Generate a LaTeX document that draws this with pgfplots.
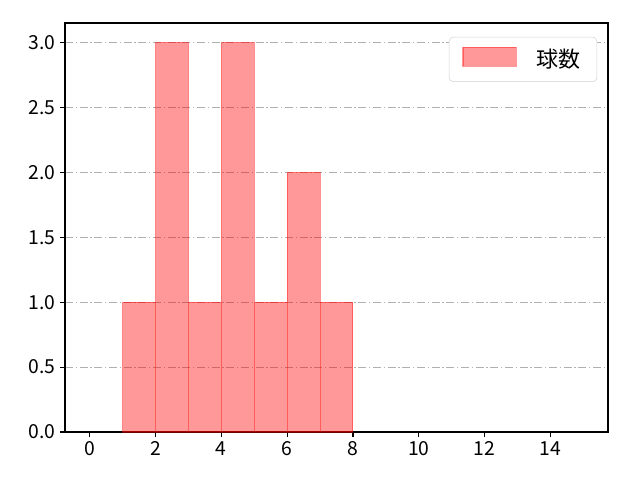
\documentclass[border=0pt]{standalone}
\usepackage{pgfplots}
\pgfplotsset{compat=1.18}
\usepackage{fontspec}
\setmainfont{Noto Sans CJK JP}
\definecolor{barred}{RGB}{255,0,0}
\definecolor{gridgray}{RGB}{176,176,176}
\begin{document}
\begin{tikzpicture}
  \begin{axis}[
    at={(0,0)}, anchor=south west,
    scale only axis, width=407.25pt, height=306.75pt,
    xmin=-0.75, xmax=15.75, ymin=0, ymax=3.15,
    xtick={0,2,...,14}, ytick={0,0.5,...,3},
    yticklabel style={/pgf/number format/.cd,fixed,fixed zerofill,precision=1},
    /pgf/number format/assume math mode=true,
    ticklabel style={font=\fontsize{14.5}{16}\selectfont},
    tick align=outside, major tick length=3.6pt,
    xtick pos=bottom, ytick pos=left,
    axis line style={line width=0.9pt},
    every tick/.style={line width=0.83pt, black},
    ymajorgrids, grid style={gridgray, line width=0.6pt, dash pattern=on 6pt off 2pt on 1pt off 2pt},
    legend style={at={(0.98,0.966)}, anchor=north east, draw=gray!35, rounded corners=3pt,
      font=\fontsize{16.5}{18}\selectfont, inner xsep=10pt, inner ysep=7pt,
      legend cell align=left},
  ]
    \addlegendimage{legend image code/.code={\path[fill=barred, fill opacity=0.4, draw=barred, draw opacity=0.4, line width=0.8pt, sharp corners] (0pt,-5pt) rectangle (40pt,9pt);}}
    \addlegendentry{\hspace{13pt}球数}
    \addplot[forget plot, ybar interval, fill=barred, fill opacity=0.4, draw=barred, draw opacity=0.4, line width=0.8pt]
      coordinates {(1,1) (2,3) (3,1) (4,3) (5,1) (6,2) (7,1) (8,1)};
  \end{axis}
  \path (-48.75pt,-36pt) rectangle (431.25pt,324pt);
\end{tikzpicture}
\end{document}
